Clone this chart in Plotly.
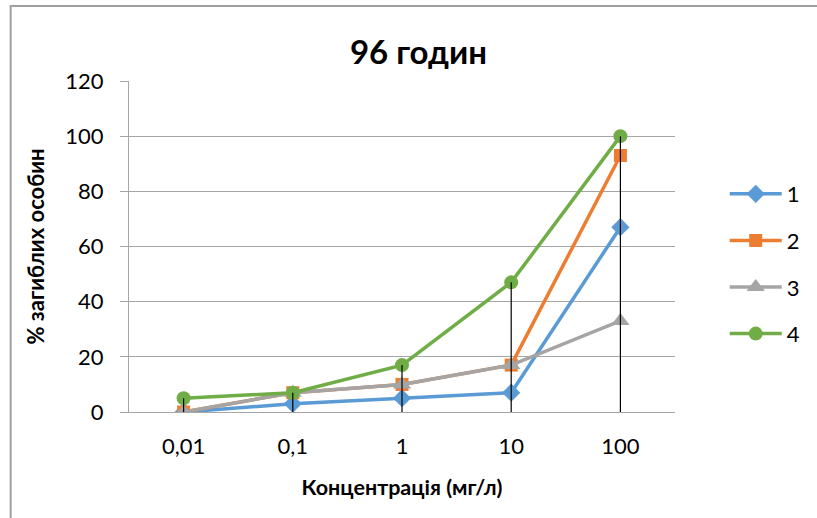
import plotly.graph_objects as go

categories = ["0,01", "0,1", "1", "10", "100"]
series_names = ["1", "2", "3", "4"]
s1 = [0, 3, 5, 7, 67]
s2 = [0, 7, 10, 17, 93]
s3 = [0, 7, 10, 17, 33]
s4 = [5, 7, 17, 47, 100]
y_ticks = [0, 20, 40, 60, 80, 100, 120]

colors = ["#5B9BD5", "#ED7D31", "#A5A5A5", "#70AD47"]
symbols = ["diamond", "square", "triangle-up", "circle"]
sizes = [14, 13, 16, 14]
FONT = "Lato"

fig = go.Figure()
for i, (name, vals) in enumerate(zip(series_names, [s1, s2, s3, s4])):
    fig.add_trace(go.Scatter(
        x=categories, y=vals, name=name, mode="lines+markers",
        line=dict(color=colors[i], width=3.5),
        marker=dict(symbol=symbols[i], size=sizes[i], color=colors[i]),
        legendgroup=name,
    ))

# drop lines from the highest point of each category to the axis
all_series = [s1, s2, s3, s4]
dx, dy = [], []
for j, c in enumerate(categories):
    top = max(s[j] for s in all_series)
    dx += [c, c, None]
    dy += [0, top, None]
fig.add_trace(go.Scatter(x=dx, y=dy, mode="lines", line=dict(color="black", width=1.2),
                         showlegend=False, hoverinfo="skip"))

W, H = 817, 518
L, R, T, B = 129, 678, 81, 412
pw, ph = R - L, B - T

fig.update_layout(
    width=W, height=H,
    margin=dict(l=L, r=W - R, t=T, b=H - B),
    paper_bgcolor="white", plot_bgcolor="white",
    font=dict(family=FONT, size=20, color="black"),
    title=dict(text="<b>96 годин</b>", x=(420 - L) / pw, xref="paper", xanchor="center",
               y=(H - 52) / H, yanchor="middle", font=dict(size=33, family=FONT)),
    showlegend=True,
    legend=dict(x=(728 - L) / pw, xanchor="left", y=(B - 173) / ph, yanchor="top",
                font=dict(size=22), tracegroupgap=15, itemwidth=52,
                bgcolor="rgba(0,0,0,0)"),
    xaxis=dict(
        type="category", range=[-0.5, 4.5], showgrid=False,
        showline=True, linecolor="#A6A6A6", linewidth=1.3,
        ticks="", ticklabelstandoff=14, tickfont=dict(size=22),
        title=dict(text="<b>Концентрація (мг/л)</b>", font=dict(size=21.5), standoff=22),
        zeroline=False,
    ),
    yaxis=dict(
        range=[0, 120], tickvals=y_ticks, showgrid=True, gridcolor="#A6A6A6", gridwidth=1.3,
        showline=True, linecolor="#A6A6A6", linewidth=1.3,
        ticks="outside", ticklen=8, tickcolor="#A6A6A6", tickwidth=1.3,
        ticklabelstandoff=12, tickfont=dict(size=22),
        title=dict(text="<b>% загиблих особин</b>", font=dict(size=22), standoff=14),
        zeroline=False,
    ),
)

# outer chart border (only top and left visible in the crop)
fig.add_shape(type="rect", xref="paper", yref="paper",
              x0=(10 - L) / pw, x1=(W + 20 - L) / pw,
              y0=(B - (H + 20)) / ph, y1=(B - 6) / ph,
              line=dict(color="#A0A0A0", width=2), fillcolor="rgba(0,0,0,0)", layer="below")

fig.write_html("out.html", config={"displayModeBar": False},
               post_script="document.body.style.margin='0px';document.body.style.overflow='hidden';")
